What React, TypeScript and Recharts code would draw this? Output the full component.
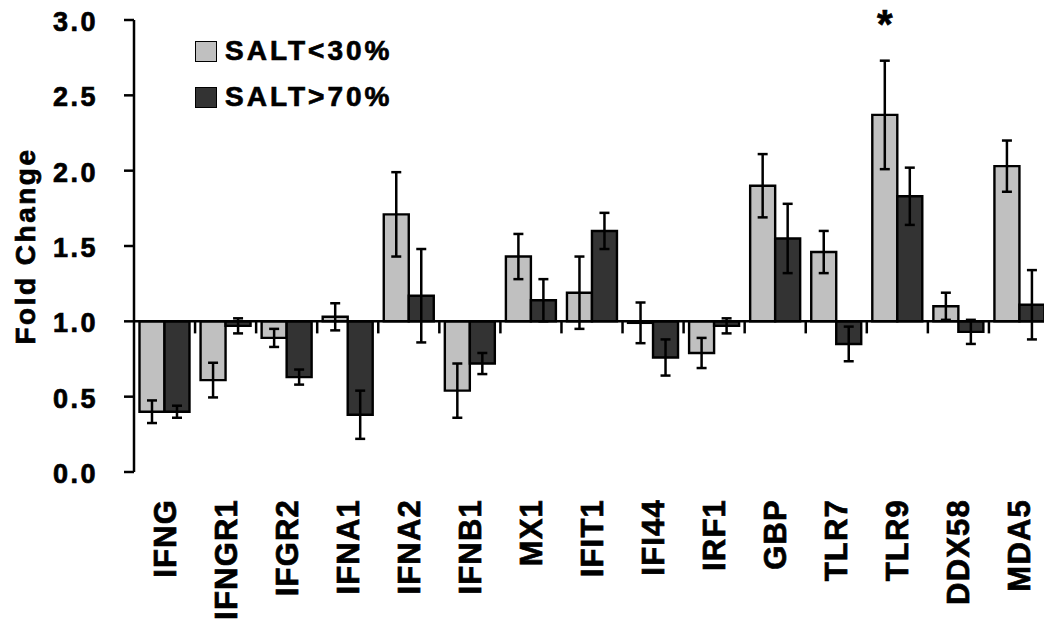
import React from "react"
import { Bar, BarChart, ErrorBar, LabelList, Legend, ReferenceLine, XAxis, YAxis } from "recharts"

const categories = ["IFNG", "IFNGR1", "IFGR2", "IFNA1", "IFNA2", "IFNB1", "MX1", "IFIT1", "IFI44", "IRF1", "GBP", "TLR7", "TLR9", "DDX58", "MDA5"]
const saltLow = [0.4, 0.61, 0.89, 1.03, 1.71, 0.54, 1.43, 1.19, 0.99, 0.79, 1.9, 1.46, 2.37, 1.1, 2.03]
const saltLowErr = [0.075, 0.115, 0.06, 0.09, 0.28, 0.18, 0.15, 0.24, 0.135, 0.1, 0.21, 0.14, 0.36, 0.09, 0.17]
const saltHigh = [0.4, 0.97, 0.63, 0.38, 1.17, 0.72, 1.14, 1.6, 0.76, 0.97, 1.55, 0.85, 1.83, 0.93, 1.11]
const saltHighErr = [0.04, 0.05, 0.05, 0.16, 0.31, 0.07, 0.14, 0.12, 0.12, 0.05, 0.23, 0.115, 0.19, 0.08, 0.23]
const significance = ["", "", "", "", "", "", "", "", "", "", "", "", "*", "", ""]
const yTicks = [0, 0.5, 1, 1.5, 2, 2.5, 3]
const baseline = 1

const FONT = '"Liberation Sans", Arial, sans-serif'
const LIGHT = "#c0c0c0"
const DARK = "#333333"

const data = categories.map((name, i) => ({
  name,
  low: [baseline, saltLow[i]],
  lowErr: saltLowErr[i],
  high: [baseline, saltHigh[i]],
  highErr: saltHighErr[i],
  mark: significance[i],
}))

// heavier text like the original figure
const textProps = { fontFamily: FONT, fontWeight: "bold", fill: "#000", stroke: "#000", strokeWidth: 0.7 }

const YTick = ({ x, y, payload }: any) => (
  <text x={x} y={y} dy={11} textAnchor="end" fontSize={27} letterSpacing={2.5} {...textProps}>
    {Number(payload.value).toFixed(1)}
  </text>
)

const XTick = ({ x, y, payload }: any) => (
  <g transform={`translate(${x},${y + 27})`}>
    <text transform="rotate(-90)" textAnchor="end" dy={11} fontSize={31} letterSpacing={1.2} {...textProps}>
      {payload.value}
    </text>
  </g>
)

const legendItems = [
  { label: "SALT<30%", color: LIGHT },
  { label: "SALT>70%", color: DARK },
]

const renderLegend = () => (
  <div style={{ fontFamily: FONT }}>
    {legendItems.map((item) => (
      <div key={item.label} style={{ display: "flex", alignItems: "center", height: 46 }}>
        <span style={{ width: 20, height: 19, background: item.color, border: "1.5px solid #000", display: "inline-block" }} />
        <span
          style={{ marginLeft: 8, fontSize: 28, fontWeight: "bold", letterSpacing: 3, color: "#000", WebkitTextStroke: "0.7px #000" }}
        >
          {item.label}
        </span>
      </div>
    ))}
  </div>
)

const renderMark = (props: any) => {
  const { x, y, width, value } = props
  if (!value) return null
  return (
    <text x={x + width / 2} y={y - 77} textAnchor="middle" fontSize={40} {...textProps}>
      {value}
    </text>
  )
}

export default function App() {
  return (
    <div style={{ position: "absolute", left: 0, top: 0, width: 1044, height: 620, overflow: "hidden", background: "#fff" }}>
      <BarChart width={1050} height={620} data={data} margin={{ top: 20, right: 0, bottom: 0, left: 0 }} barCategoryGap="9%" barGap={0}>
        <XAxis dataKey="name" height={148} axisLine={false} tickLine={false} tickSize={0} tickMargin={0} interval={0} tick={<XTick />} />
        <YAxis
          width={134}
          domain={[0, 3]}
          ticks={yTicks}
          allowDataOverflow
          axisLine={{ stroke: "#000", strokeWidth: 2.5 }}
          tickLine={{ stroke: "#000", strokeWidth: 2.5 }}
          tickSize={10}
          tickMargin={26}
          tick={<YTick />}
          label={{
            content: ({ viewBox }: any) => (
              <text
                transform={`translate(${viewBox.x + 35},${viewBox.y + viewBox.height / 2}) rotate(-90)`}
                textAnchor="middle"
                fontSize={28}
                letterSpacing={2.5}
                {...textProps}
              >
                Fold Change
              </text>
            ),
          }}
        />
        <Legend layout="vertical" align="center" verticalAlign="middle" content={renderLegend} wrapperStyle={{ left: 195, top: 28, width: 260 }} />
        <Bar dataKey="low" fill={LIGHT} stroke="#000" strokeWidth={2.4} isAnimationActive={false}>
          <ErrorBar dataKey="lowErr" direction="y" stroke="#000" strokeWidth={2.5} width={5} />
          <LabelList dataKey="mark" content={renderMark} />
        </Bar>
        <Bar dataKey="high" fill={DARK} stroke="#000" strokeWidth={2.4} isAnimationActive={false}>
          <ErrorBar dataKey="highErr" direction="y" stroke="#000" strokeWidth={2.5} width={5} />
        </Bar>
        <ReferenceLine y={baseline} stroke="#000" strokeWidth={2.5} />
        {/* small ticks hanging under the 1.0 line between categories */}
        {categories.slice(1).map((name) => (
          <ReferenceLine
            key={name}
            segment={[
              { x: name, y: baseline },
              { x: name, y: baseline - 0.08 },
            ]}
            position="start"
            stroke="#000"
            strokeWidth={2.5}
          />
        ))}
      </BarChart>
    </div>
  )
}
